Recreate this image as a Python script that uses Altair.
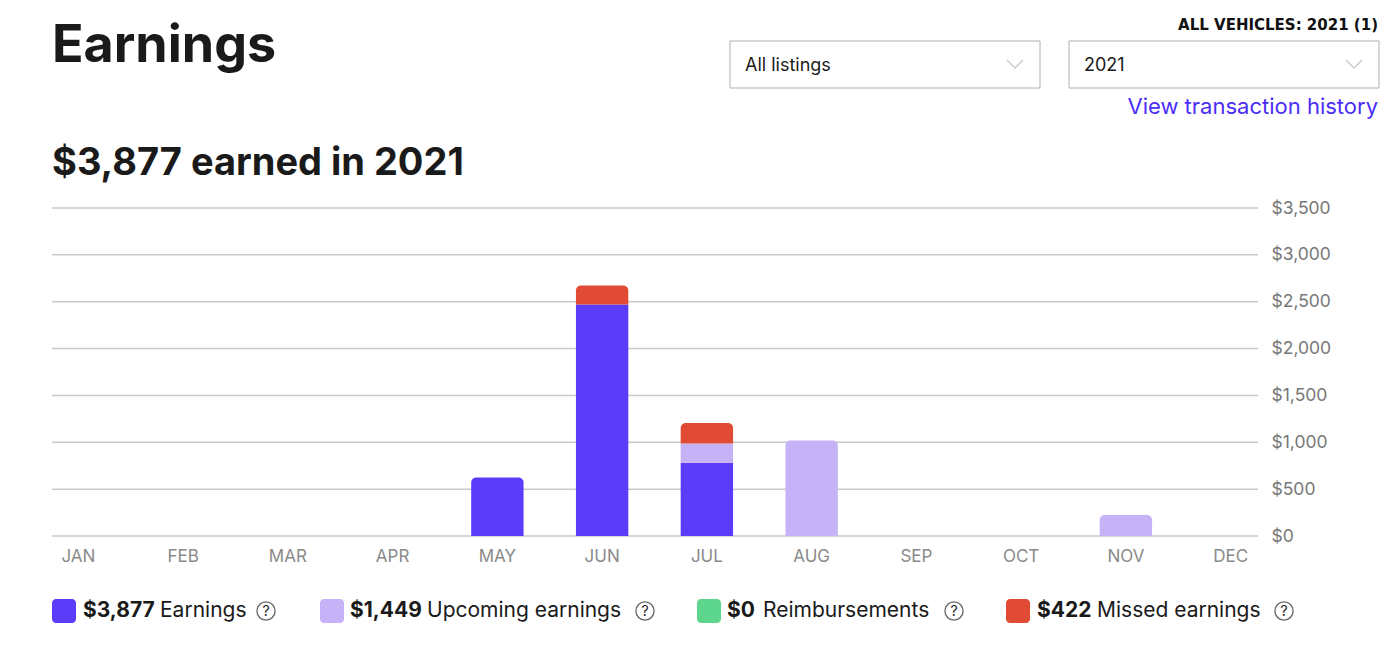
import altair as alt
import pandas as pd

# ---------------- data ----------------
months = ["JAN", "FEB", "MAR", "APR", "MAY", "JUN", "JUL", "AUG", "SEP", "OCT", "NOV", "DEC"]
earnings = [0, 0, 0, 0, 625, 2470, 782, 0, 0, 0, 0, 0]
upcoming = [0, 0, 0, 0, 0, 0, 205, 1020, 0, 0, 224, 0]
reimbursements = [0, 0, 0, 0, 0, 0, 0, 0, 0, 0, 0, 0]
missed = [0, 0, 0, 0, 0, 204, 218, 0, 0, 0, 0, 0]
series_names = ["Earnings", "Upcoming earnings", "Reimbursements", "Missed earnings"]
series_totals = ["$3,877", "$1,449", "$0", "$422"]
y_ticks = [0, 500, 1000, 1500, 2000, 2500, 3000, 3500]

page_title = "Earnings"
headline = "$3,877 earned in 2021"
vehicles_label = "ALL VEHICLES: 2021 (1)"
dropdown_labels = ["All listings", "2021"]
link_label = "View transaction history"

# ---------------- styles / layout ----------------
series_colors = ["#5b3cfb", "#c6b2f7", "#5bd68c", "#e14a34"]
FONT = "Inter"
W, H = 1257, 328
OX, OY = 26, 208  # page position of the plot origin (for converting layout)


def px(x):
    return x - OX


def py(y):
    return y - OY


# ---------------- stacked segments ----------------
series_values = [earnings, upcoming, reimbursements, missed]
rows = []
for i, m in enumerate(months):
    nonzero = [n for n, vals in zip(series_names, series_values) if vals[i] > 0]
    top = nonzero[-1] if nonzero else None
    base = 0
    for n, vals in zip(series_names, series_values):
        v = vals[i]
        if v > 0:
            rows.append(dict(month=m, series=n, y0=base, y1=base + v, top=(n == top)))
            base += v
seg_df = pd.DataFrame(rows)

xscale = alt.Scale(domain=months, paddingInner=0.5, paddingOuter=0.25)
yscale = alt.Scale(domain=[0, 3500], nice=False)
cscale = alt.Scale(domain=series_names, range=series_colors)
yaxis = alt.Axis(orient="right", values=y_ticks, format="$,.0f", title=None,
                 domain=False, ticks=False, grid=False, offset=-12, labelPadding=0,
                 labelColor="#777777", labelFontSize=17.5, labelFont=FONT,
                 labelAlign="left")

grid = alt.Chart(pd.DataFrame({"tick": y_ticks})).mark_rule(
    color="#c9c9c9", strokeWidth=1.5
).encode(
    y=alt.Y("tick:Q", scale=yscale, axis=yaxis),
    x=alt.value(px(52)),
    x2=alt.value(px(1258)),
)

bar_enc = dict(
    x=alt.X("month:N", sort=months, scale=xscale,
            axis=alt.Axis(title=None, domain=False, ticks=False, labelAngle=0,
                          labelColor="#8a8a8a", labelFontSize=17, labelFont=FONT,
                          labelPadding=12)),
    y=alt.Y("y1:Q", scale=yscale, axis=yaxis),
    y2="y0:Q",
    color=alt.Color("series:N", scale=cscale, legend=None),
)
bars_mid = alt.Chart(seg_df).transform_filter("!datum.top").mark_bar().encode(**bar_enc)
bars_top = alt.Chart(seg_df).transform_filter("datum.top").mark_bar(
    cornerRadiusTopLeft=5, cornerRadiusTopRight=5).encode(**bar_enc)

one = pd.DataFrame({"a": [0]})


def text(t, x, y, size, weight="normal", color="#1a1a1a", align="left",
         baseline="middle", font=FONT):
    return alt.Chart(one).mark_text(
        text=t, font=font, fontSize=size, fontWeight=weight, color=color,
        align=align, baseline=baseline
    ).encode(x=alt.value(x), y=alt.value(y))


def rect(x1, x2, y1, y2, fill, stroke=None, radius=0, sw=1):
    kw = {}
    if stroke:
        kw["stroke"] = stroke
        kw["strokeWidth"] = sw
    if radius:
        kw["cornerRadius"] = radius
    return alt.Chart(one).mark_rect(fill=fill, **kw).encode(
        x=alt.value(x1), x2=alt.value(x2), y=alt.value(y1), y2=alt.value(y2))


def chevron(x, y):
    return alt.Chart(one).mark_point(
        shape="M -1 -0.5 L 0 0.5 L 1 -0.5", filled=False, size=256,
        color="#b5b5b5", strokeWidth=1.3
    ).encode(x=alt.value(x), y=alt.value(y))


layers = [grid, bars_mid, bars_top]

# header
layers.append(text(page_title, px(52), py(62), 52, "bold", baseline="alphabetic"))
layers.append(text(headline, px(52), py(175), 38, "bold", baseline="alphabetic"))
layers.append(text(vehicles_label, px(1378), py(25), 15, "bold", align="right",
                   font="DejaVu Sans", color="#111111"))
layers.append(rect(px(730), px(1040), py(41), py(88), "white", "#b0b0b0"))
layers.append(rect(px(1069), px(1379), py(41), py(88), "white", "#b0b0b0"))
layers.append(text(dropdown_labels[0], px(745), py(66), 18))
layers.append(text(dropdown_labels[1], px(1084), py(66), 18))
layers.append(chevron(px(1015), py(64)))
layers.append(chevron(px(1354), py(64)))
layers.append(text(link_label, px(1378), py(107), 22, color="#4b2df5", align="right"))

# custom legend
legend_sq = [52, 320, 697, 1006]
legend_val = [83, 350, 727, 1037]
legend_lab = [160, 427, 763, 1097]
legend_q = [266, 645, 954, 1284]
LY = 611
for i, name in enumerate(series_names):
    layers.append(rect(px(legend_sq[i]), px(legend_sq[i] + 24), py(LY - 12), py(LY + 12),
                       series_colors[i], radius=4))
    layers.append(text(series_totals[i], px(legend_val[i]), py(LY), 21, "bold"))
    layers.append(text(name, px(legend_lab[i]), py(LY), 21))
    layers.append(alt.Chart(one).mark_point(
        shape="circle", filled=False, size=330, color="#222222", strokeWidth=1.3
    ).encode(x=alt.value(px(legend_q[i])), y=alt.value(py(LY))))
    layers.append(text("?", px(legend_q[i]), py(LY + 1), 14, align="center"))

chart = alt.layer(*layers).properties(
    width=W, height=H,
    autosize=alt.AutoSizeParams(type="none"),
    padding={"left": OX - 8, "top": OY - 8, "right": 100, "bottom": 95},
).configure(background="white").configure_view(stroke=None)

chart.save("out.html", embed_options={"renderer": "svg", "actions": False})
